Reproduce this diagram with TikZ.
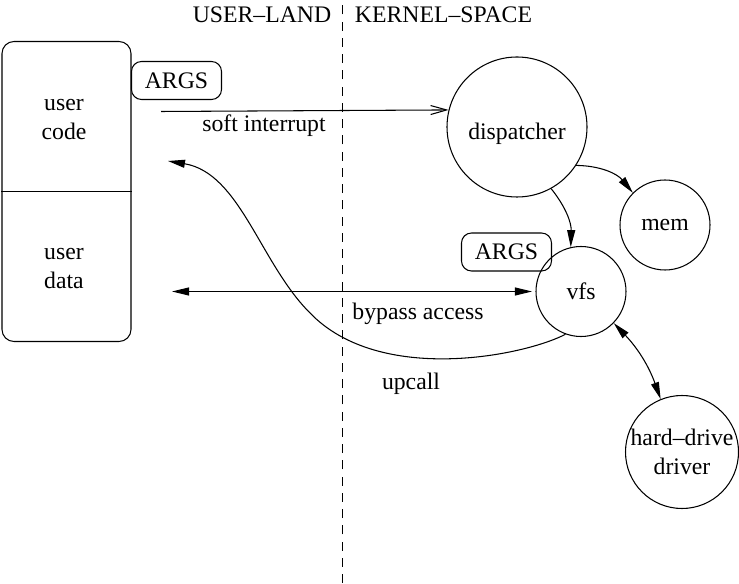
\documentclass[tikz,border=0pt]{standalone}
\usepackage{fontspec}
\setmainfont{Liberation Serif}
\usetikzlibrary{arrows.meta}
\begin{document}
\begin{tikzpicture}[
  font=\fontsize{13.5}{16.5}\selectfont,
  line width=0.6pt,
  proc/.style={draw, circle, inner sep=0pt, align=center},
  argbox/.style={draw, rounded corners=0.2cm, minimum width=1.8cm, minimum height=0.76cm},
  tip/.style={-{Triangle[length=0.34cm,width=0.16cm]}},
  twotip/.style={{Triangle[length=0.34cm,width=0.16cm]}-{Triangle[length=0.34cm,width=0.16cm]}}
]
\useasboundingbox (0,0) rectangle (14.78,11.66);

\draw[dash pattern=on 0.18cm off 0.145cm] (6.85,0) -- (6.85,11.66);
\node (uland) at (5.24,11.36) {USER--LAND};
\node (kspace) at (8.87,11.36) {KERNEL--SPACE};

\node[draw, rounded corners=0.24cm, minimum width=2.58cm, minimum height=6cm] (ubox) at (1.33,7.83) {};
\draw (ubox.west) -- (ubox.east);
\node[align=center] (ucode) at (1.28,9.26) {user\\code};
\node[align=center] (udata) at (1.28,6.28) {user\\data};

\node[argbox] (args1) at (3.53,10.05) {ARGS};
\node[argbox] (args2) at (10.13,6.62) {ARGS};

\node[proc, minimum size=2.8cm, text height=0.62cm] (disp) at (10.34,9.12) {dispatcher};
\node[proc, minimum size=1.8cm] (mem) at (13.30,7.16) {mem};
\node[proc, minimum size=1.8cm] (vfs) at (11.62,5.83) {vfs};
\node[proc, minimum size=2.26cm] (hdd) at (13.64,2.62) {hard--drive\\driver};

\coordinate (si) at (3.22,9.43);
\coordinate (bp) at (3.44,5.83);
\coordinate (uc) at (3.36,8.44);

\draw[-{Straight Barb[length=0.32cm,width=0.18cm]}] (si) -- (disp.166);
\node (silab) at (5.28,9.14) {soft interrupt};

\draw[twotip, shorten >=2pt] (bp) -- (vfs.west);
\node (bplab) at (8.36,5.38) {bypass access};

\draw[tip] (vfs.250) .. controls (10.5,4.55) and (7.6,3.95) .. (6.2,5.4)
  .. controls (5.2,6.4) and (4.8,8.2) .. (uc);
\node (uclab) at (8.22,3.98) {upcall};

\draw[tip] (disp.299) to[bend left=20] (vfs.103);
\draw[tip] (disp.327) to[bend left=25] (mem.135);
\draw[twotip] (vfs.316) to[bend left=12] (hdd.112);
\end{tikzpicture}
\end{document}
